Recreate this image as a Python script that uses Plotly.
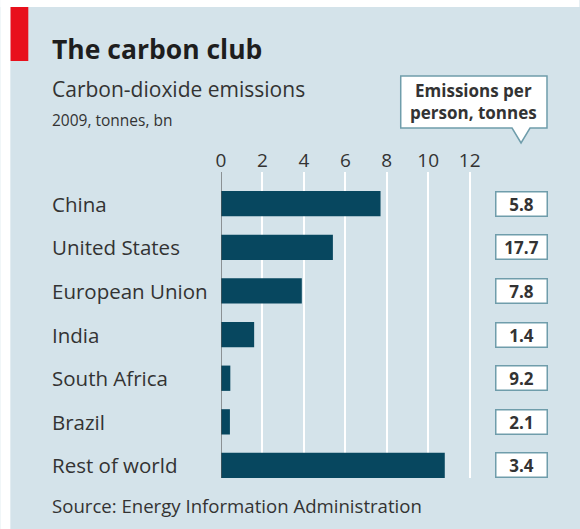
import plotly.graph_objects as go

# Data
regions = ["China", "United States", "European Union", "India",
           "South Africa", "Brazil", "Rest of world"]
emissions_bn = [7.7, 5.4, 3.9, 1.6, 0.45, 0.43, 10.8]
per_person = [5.8, 17.7, 7.8, 1.4, 9.2, 2.1, 3.4]
x_ticks = [0, 2, 4, 6, 8, 10, 12]

W, H = 580, 529
L, R, T, B = 221, 99.6, 172, 51
PW, PH = W - L - R, H - T - B

BG = "#d4e3ea"
BAR = "#07475f"
TXT = "#333333"
FONT = "Open Sans"


def px(x):
    return (x - L) / PW


def py(y):
    return (H - B - y) / PH


fig = go.Figure()
fig.add_trace(go.Bar(
    y=regions, x=emissions_bn, orientation="h",
    marker=dict(color=BAR, line=dict(width=0)),
    hoverinfo="skip",
))

shapes = []
annotations = []

# Vertical axis line at zero
shapes.append(dict(type="line", xref="x", yref="paper", x0=0, x1=0, y0=0, y1=1,
                   line=dict(color="#5a5a5a", width=1.2), layer="above"))

# Red tag top-left
shapes.append(dict(type="rect", xref="paper", yref="paper",
                   x0=px(10), x1=px(28), y0=py(61), y1=py(7),
                   fillcolor="#e8101c", line=dict(width=0), layer="below"))
# White page border (top and left)
shapes.append(dict(type="rect", xref="paper", yref="paper",
                   x0=px(0), x1=px(W), y0=py(7), y1=py(0),
                   fillcolor="white", line=dict(width=0), layer="below"))
shapes.append(dict(type="rect", xref="paper", yref="paper",
                   x0=px(0), x1=px(10), y0=py(H), y1=py(0),
                   fillcolor="white", line=dict(width=0), layer="below"))

# Callout box with pointer
cx0, cx1, cy0, cy1 = 401, 547.5, 76, 128
tip_x, tip_y = 521.5, 143
path_pts = [(cx0, cy0), (cx1, cy0), (cx1, cy1), (tip_x + 9, cy1), (tip_x, tip_y),
            (tip_x - 9, cy1), (cx0, cy1)]


def to_paper_path(pts):
    s = ""
    for i, (a, b) in enumerate(pts):
        s += ("M" if i == 0 else "L") + f"{px(a):.5f},{py(b):.5f}"
    return s + "Z"


shapes.append(dict(type="path", xref="paper", yref="paper",
                   path=to_paper_path(path_pts),
                   fillcolor="white", line=dict(color="#6f9dab", width=1.5)))
annotations.append(dict(xref="paper", yref="paper", x=px((cx0 + cx1) / 2), y=py((cy0 + cy1) / 2),
                        text="<b>Emissions per<br>person, tonnes</b>", showarrow=False,
                        font=dict(family=FONT, size=17, color=TXT),
                        xanchor="center", yanchor="middle", align="center"))

# Titles
annotations.append(dict(xref="paper", yref="paper", x=px(50), y=py(49),
                        text="<b>The carbon club</b>", showarrow=False,
                        font=dict(family=FONT, size=26.5, color="#1e1e1e"),
                        xanchor="left", yanchor="middle"))
annotations.append(dict(xref="paper", yref="paper", x=px(50), y=py(89),
                        text="Carbon-dioxide emissions", showarrow=False,
                        font=dict(family=FONT, size=21, color=TXT),
                        xanchor="left", yanchor="middle"))
annotations.append(dict(xref="paper", yref="paper", x=px(50), y=py(120),
                        text="2009, tonnes, bn", showarrow=False,
                        font=dict(family=FONT, size=15.5, color=TXT),
                        xanchor="left", yanchor="middle"))
annotations.append(dict(xref="paper", yref="paper", x=px(50), y=py(506),
                        text="Source: Energy Information Administration", showarrow=False,
                        font=dict(family=FONT, size=18.6, color=TXT),
                        xanchor="left", yanchor="middle"))

# Category labels and per-person boxes
for r, v in zip(regions, per_person):
    annotations.append(dict(xref="paper", yref="y", x=px(50), y=r, text=r,
                            showarrow=False, xanchor="left", yanchor="middle",
                            font=dict(family=FONT, size=20.5, color=TXT)))
    annotations.append(dict(xref="paper", yref="y", x=px(521.5), y=r, text=f"<b>{v}</b>",
                            showarrow=False, xanchor="center", yanchor="middle",
                            width=48, height=21, bgcolor="white",
                            bordercolor="#6f9dab", borderwidth=1.5, borderpad=1,
                            font=dict(family=FONT, size=17, color=TXT)))

fig.update_layout(
    width=W, height=H,
    margin=dict(l=L, r=R, t=T, b=B),
    paper_bgcolor=BG, plot_bgcolor=BG,
    showlegend=False,
    bargap=0.42,
    shapes=shapes,
    annotations=annotations,
    xaxis=dict(side="top", range=[0, 12.5], tickvals=x_ticks,
               showgrid=True, gridcolor="white", gridwidth=2,
               zeroline=False, showline=False, ticks="",
               tickfont=dict(family=FONT, size=19, color=TXT), fixedrange=True),
    yaxis=dict(categoryorder="array", categoryarray=regions,
               range=[6.287, -0.727], showticklabels=False, showgrid=False,
               zeroline=False, showline=False, ticks="", fixedrange=True),
)

fig.write_html("out.html")
